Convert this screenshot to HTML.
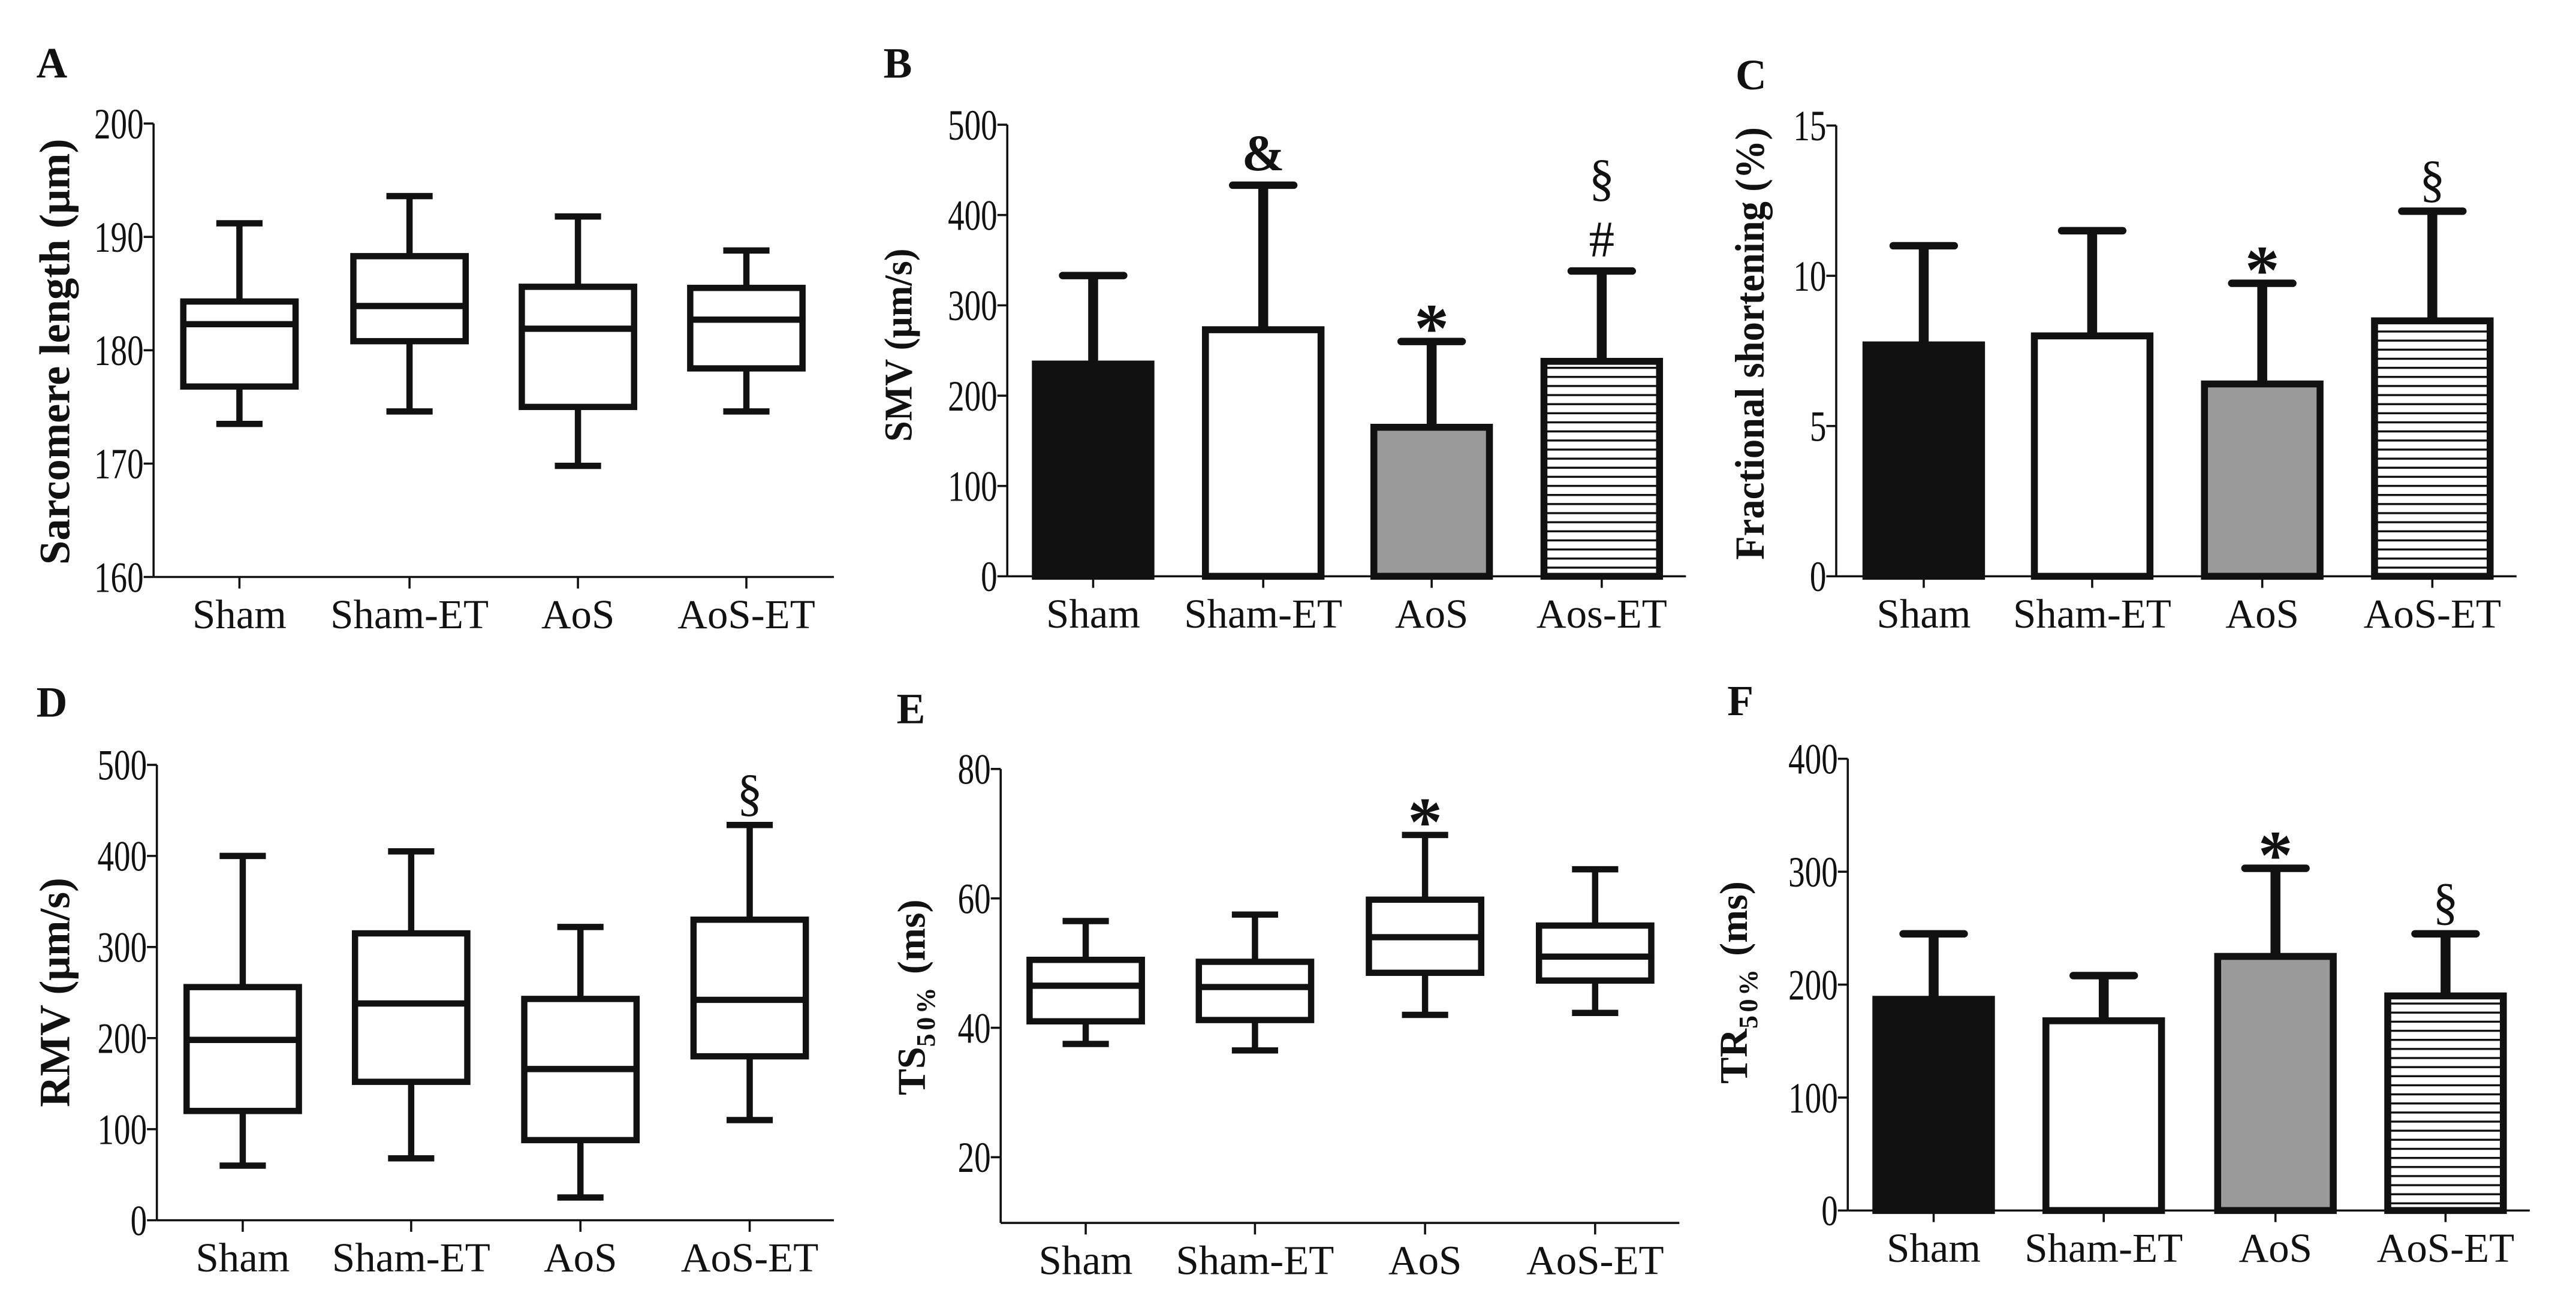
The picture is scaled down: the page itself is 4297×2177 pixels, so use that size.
<!DOCTYPE html>
<html><head><meta charset="utf-8"><style>
html,body{margin:0;padding:0;background:#fff;}
svg{display:block;}
text{font-family:"Liberation Serif",serif;fill:#111;}
</style></head>
<body>
<svg id="fig" width="4297" height="2177" viewBox="0 0 1560 790.3" xmlns="http://www.w3.org/2000/svg">
<rect x="0" y="0" width="1560" height="790.3" fill="#fff"/>
<defs>
<pattern id="stripes" patternUnits="userSpaceOnUse" width="10" height="5.5">
<rect width="10" height="5.5" fill="#fff"/><line x1="0" y1="2.75" x2="10" y2="2.75" stroke="#111" stroke-width="1.2"/>
</pattern>
</defs>
</svg>
<script>
// ---- data ----
const catsA = ["Sham","Sham-ET","AoS","AoS-ET"];
const aMin = [173.5,174.6,169.8,174.6];
const aQ1 = [176.8,180.8,175.0,178.4];
const aMed = [182.3,183.9,181.9,182.7];
const aQ3 = [184.3,188.3,185.6,185.5];
const aMax = [191.2,193.6,191.8,188.8];
const aTicks = [160,170,180,190,200];

const catsB = ["Sham","Sham-ET","AoS","Aos-ET"];
const bMean = [235,273,165,238];
const bErr = [333,433,260,338];
const bTicks = [0,100,200,300,400,500];
const bMarks = [[],["&"],["*"],["#","§"]];

const catsC = ["Sham","Sham-ET","AoS","AoS-ET"];
const cMean = [7.7,8.0,6.4,8.5];
const cErr = [11.0,11.5,9.75,12.15];
const cTicks = [0,5,10,15];
const cMarks = [[],[],["*"],["§"]];

const catsD = ["Sham","Sham-ET","AoS","AoS-ET"];
const dMin = [60,68,25,110];
const dQ1 = [120,152,88,180];
const dMed = [198,238,166,242];
const dQ3 = [256,315,243,330];
const dMax = [400,405,322,434];
const dTicks = [0,100,200,300,400,500];
const dMarks = [[],[],[],["§"]];

const catsE = ["Sham","Sham-ET","AoS","AoS-ET"];
const eMin = [37.5,36.5,42.0,42.3];
const eQ1 = [41.0,41.2,48.5,47.3];
const eMed = [46.5,46.3,54.0,51.0];
const eQ3 = [50.5,50.2,59.8,55.8];
const eMax = [56.5,57.5,69.8,64.5];
const eTicks = [20,40,60,80];
const eMarks = [[],[],["*"],[]];

const catsF = ["Sham","Sham-ET","AoS","AoS-ET"];
const fMean = [187,168,225,190];
const fErr = [245,208,303,245];
const fTicks = [0,100,200,300,400];
const fMarks = [[],[],["*"],["§"]];

const fills = ["#111","#fff","#9a9a9a","url(#stripes)"];

const svg = document.getElementById('fig');
const NS = "http://www.w3.org/2000/svg";
function el(tag, attrs, parent){
  const e = document.createElementNS(NS, tag);
  for (const k in attrs) e.setAttribute(k, attrs[k]);
  (parent||svg).appendChild(e);
  return e;
}
function txt(s, x, y, size, opts, parent){
  const t = el('text', {x:x, y:y, 'font-size':size}, parent);
  if (opts) for (const k in opts) t.setAttribute(k, opts[k]);
  t.textContent = s;
  return t;
}

function axes(p){
  const g = el('g', {});
  
  
  const L = txt(p.letter, p.lx, p.ly, 26, {'font-weight':'bold'}, g);
  
  
  const y = v => p.y0 - (v - p.v0) / (p.v1 - p.v0) * (p.y0 - p.y1);
  p.y = y;
  const top = y(p.ticks[p.ticks.length-1]);
  el('line', {x1:p.ax, y1:top, x2:p.ax, y2:p.base, stroke:'#111','stroke-width':1.3}, g);
  el('line', {x1:p.ax, y1:p.base, x2:p.xend, y2:p.base, stroke:'#111','stroke-width':1.3}, g);
  p.ticks.forEach(v => {
    el('line', {x1:p.ax-6, y1:y(v), x2:p.ax, y2:y(v), stroke:'#111','stroke-width':1.3}, g);
    const s = String(v);
    const t = txt(s, p.ax-6, y(v)+9, 26, {'text-anchor':'end', textLength: s.length*10, lengthAdjust:'spacingAndGlyphs'}, g);
    
    
  });
  p.cats.forEach((c,i) => {
    const cx = p.cx[i];
    el('line', {x1:cx, y1:p.base, x2:cx, y2:p.base+7, stroke:'#111','stroke-width':1.3}, g);
    const t = txt(c, cx, p.base+31, 25, {'text-anchor':'middle'}, g);
    
    
  });
  const attrs = {x:0, y:0, 'font-size':p.tsize, 'font-weight':'bold', 'text-anchor':'middle',
    transform:`translate(${p.tx},${p.ty}) rotate(-90)`};
  if (p.tlen) { attrs.textLength = p.tlen; attrs.lengthAdjust = 'spacingAndGlyphs'; }
  const yt = el('text', attrs, g);
  
  
  yt.innerHTML = p.title;
  return g;
}

function marks(g, p, i, topY, list){
  let yy = topY - 9;
  list.forEach(m => {
    const big = (m === '*');
    const t = txt(m, p.cx[i], big ? yy+15 : yy, big ? 42 : 31, {'text-anchor':'middle','font-weight': (m==='&'||big)?'bold':'normal'}, g);
    
    
    yy -= 37;
  });
}

function boxPanel(p, mn, q1, md, q3, mx, mk){
  const g = axes(p), y = p.y, hw = 34, cw = 14;
  p.cats.forEach((c,i) => {
    const cx = p.cx[i];
    const b = el('g', {}, g);
    
    
    const st = {stroke:'#111','stroke-width':3.8, fill:'none'};
    el('line', Object.assign({x1:cx, y1:y(mx[i]), x2:cx, y2:y(q3[i])}, st), b);
    el('line', Object.assign({x1:cx, y1:y(q1[i]), x2:cx, y2:y(mn[i])}, st), b);
    el('line', Object.assign({x1:cx-cw, y1:y(mx[i]), x2:cx+cw, y2:y(mx[i])}, st), b);
    el('line', Object.assign({x1:cx-cw, y1:y(mn[i]), x2:cx+cw, y2:y(mn[i])}, st), b);
    el('rect', Object.assign({x:cx-hw, y:y(q3[i]), width:2*hw, height:y(q1[i])-y(q3[i])}, st, {fill:'#fff'}), b);
    el('line', Object.assign({x1:cx-hw, y1:y(md[i]), x2:cx+hw, y2:y(md[i])}, st), b);
    if (mk) marks(g, p, i, y(mx[i]), mk[i]);
  });
}

function barPanel(p, mean, err, mk){
  const g = axes(p), y = p.y, hw = 35, cw = 18.5;
  p.cats.forEach((c,i) => {
    const cx = p.cx[i];
    const b = el('g', {}, g);
    
    
    el('line', {x1:cx, y1:y(err[i]), x2:cx, y2:y(mean[i]), stroke:'#111','stroke-width':6}, b);
    el('line', {x1:cx-cw, y1:y(err[i]), x2:cx+cw, y2:y(err[i]), stroke:'#111','stroke-width':4.5,'stroke-linecap':'round'}, b);
    el('rect', {x:cx-hw, y:y(mean[i]), width:2*hw, height:p.base-y(mean[i]), fill:fills[i], stroke:'#111','stroke-width':4.2}, b);
    if (mk) marks(g, p, i, y(err[i]), mk[i]);
  });
}

boxPanel({name:'panel-a-sarcomere-length', letter:'A', lx:22, ly:47, ax:93, xend:505, v0:160, v1:200, y0:349.4, y1:74.8, base:349.4,
  ticks:aTicks, cats:catsA, cx:[145,248,350,452], tx:42, ty:213, tsize:26, tlen:258,
  title:'Sarcomere length (μm)'}, aMin, aQ1, aMed, aQ3, aMax, null);

barPanel({name:'panel-b-smv', letter:'B', lx:535, ly:47, ax:610, xend:1021, v0:0, v1:500, y0:349, y1:75.5, base:349,
  ticks:bTicks, cats:catsB, cx:[662,765,867,970], tx:552, ty:209, tsize:24, tlen:117,
  title:'SMV (μm/s)'}, bMean, bErr, bMarks);

barPanel({name:'panel-c-fractional-shortening', letter:'C', lx:1051, ly:54, ax:1112, xend:1524, v0:0, v1:15, y0:349, y1:76, base:349,
  ticks:cTicks, cats:catsC, cx:[1165,1267,1370,1473], tx:1068, ty:208, tsize:25, tlen:262,
  title:'Fractional shortening (%)'}, cMean, cErr, cMarks);

boxPanel({name:'panel-d-rmv', letter:'D', lx:22, ly:434, ax:95, xend:505, v0:0, v1:500, y0:739, y1:463.2, base:739,
  ticks:dTicks, cats:catsD, cx:[147,249,351.5,454], tx:42, ty:601, tsize:26, tlen:139,
  title:'RMV (μm/s)'}, dMin, dQ1, dMed, dQ3, dMax, dMarks);

boxPanel({name:'panel-e-ts50', letter:'E', lx:543, ly:438, ax:606, xend:1017, v0:20, v1:80, y0:700.8, y1:465.7, base:740.6,
  ticks:eTicks, cats:catsE, cx:[657.5,760,863,966], tx:560, ty:604, tsize:24,
  title:'TS<tspan font-size="16" dy="6" letter-spacing="2">50%</tspan><tspan dy="-6" font-size="24"> (ms)</tspan>'}, eMin, eQ1, eMed, eQ3, eMax, eMarks);

barPanel({name:'panel-f-tr50', letter:'F', lx:1046, ly:433, ax:1119, xend:1532, v0:0, v1:400, y0:733.1, y1:459.5, base:733.1,
  ticks:fTicks, cats:catsF, cx:[1171,1274,1378,1481], tx:1058, ty:595, tsize:24,
  title:'TR<tspan font-size="16" dy="6" letter-spacing="2">50%</tspan><tspan dy="-6" font-size="24"> (ms)</tspan>'}, fMean, fErr, fMarks);
</script>
</body></html>
